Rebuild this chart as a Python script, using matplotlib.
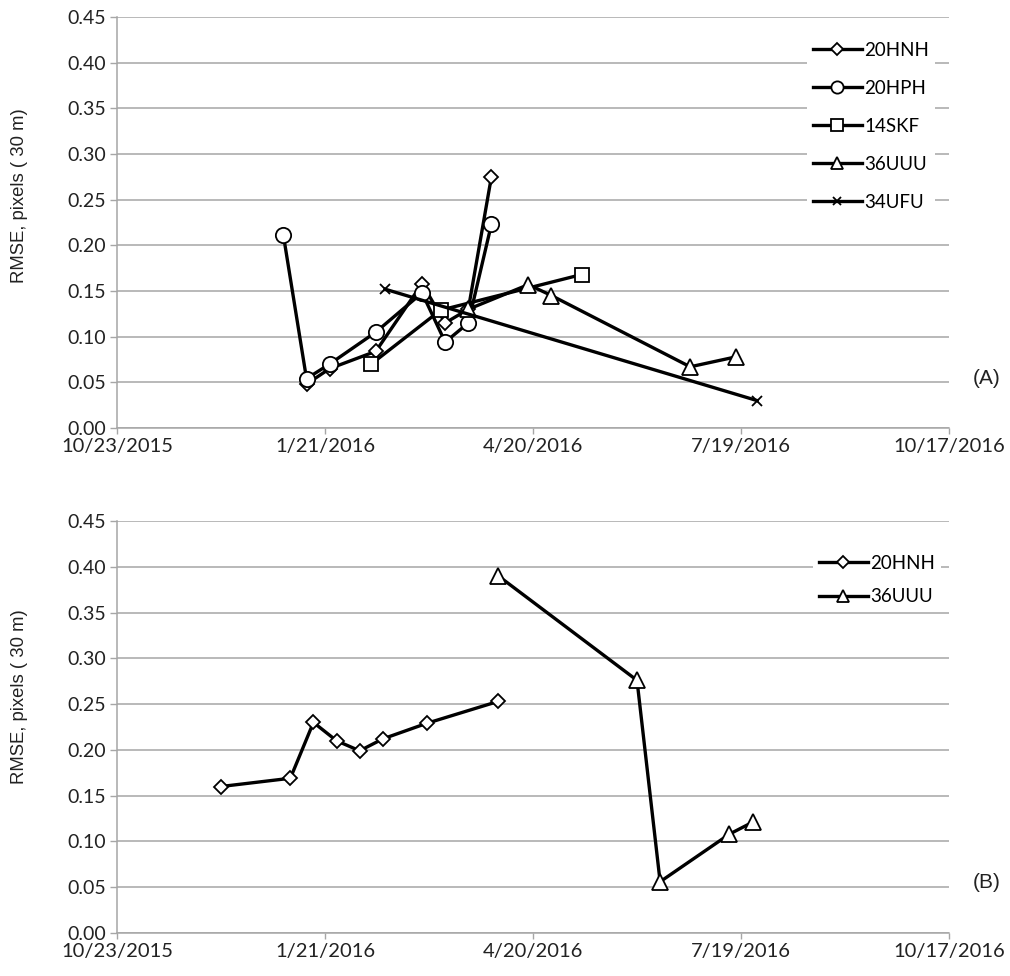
import matplotlib
matplotlib.use("Agg")
import matplotlib.pyplot as plt
import matplotlib.dates as mdates
from matplotlib.ticker import FuncFormatter
import pandas as pd

# ---------------- data ----------------
# Panel A
a_20hnh_dates = ["2016-01-13", "2016-01-23", "2016-02-12", "2016-03-03", "2016-03-13", "2016-03-23", "2016-04-02"]
a_20hnh_vals = [0.048, 0.065, 0.084, 0.158, 0.115, 0.130, 0.275]

a_20hph_dates = ["2016-01-03", "2016-01-13", "2016-01-23", "2016-02-12", "2016-03-03", "2016-03-13", "2016-03-23", "2016-04-02"]
a_20hph_vals = [0.211, 0.054, 0.070, 0.105, 0.148, 0.094, 0.115, 0.223]

a_14skf_dates = ["2016-02-10", "2016-03-11", "2016-05-11"]
a_14skf_vals = [0.070, 0.129, 0.168]

a_36uuu_dates = ["2016-03-23", "2016-04-18", "2016-04-28", "2016-06-27", "2016-07-17"]
a_36uuu_vals = [0.130, 0.157, 0.145, 0.067, 0.078]

a_34ufu_dates = ["2016-02-16", "2016-07-26"]
a_34ufu_vals = [0.152, 0.030]

# Panel B
b_20hnh_dates = ["2015-12-07", "2016-01-06", "2016-01-16", "2016-01-26", "2016-02-05", "2016-02-15", "2016-03-05", "2016-04-05"]
b_20hnh_vals = [0.160, 0.169, 0.230, 0.210, 0.199, 0.212, 0.229, 0.253]

b_36uuu_dates = ["2016-04-05", "2016-06-04", "2016-06-14", "2016-07-14", "2016-07-24"]
b_36uuu_vals = [0.390, 0.276, 0.056, 0.108, 0.121]

x_tick_dates = ["2015-10-23", "2016-01-21", "2016-04-20", "2016-07-19", "2016-10-17"]
y_ticks = [0.00, 0.05, 0.10, 0.15, 0.20, 0.25, 0.30, 0.35, 0.40, 0.45]
y_label = "RMSE, pixels ( 30 m)"

# ---------------- styling ----------------
TICK_FONT = ["Lato", "DejaVu Sans"]
LAB_FONT = ["Liberation Sans", "DejaVu Sans"]
GRID_C = "#a6a6a6"
TXT_C = "#222222"

marker_style = {
    "20HNH": dict(marker="D", ms=7.5),
    "20HPH": dict(marker="o", ms=11),
    "14SKF": dict(marker="s", ms=10.5),
    "36UUU": dict(marker="^", ms=11),
    "34UFU": dict(marker="x", ms=7, mew=1.3),
}

fig = plt.figure(figsize=(10.10, 9.76), dpi=100)
axA = fig.add_axes([117/1010, 1-428/976, (949-117)/1010, 411/976])
axB = fig.add_axes([117/1010, 1-933/976, (949-117)/1010, 412/976])

def fmt_date(x, pos=None):
    d = mdates.num2date(x)
    return f"{d.month}/{d.day}/{d.year}"

def style_axis(ax):
    ax.set_xlim(pd.Timestamp(x_tick_dates[0]), pd.Timestamp(x_tick_dates[-1]))
    ax.set_ylim(0, 0.45)
    ax.set_xticks([pd.Timestamp(d) for d in x_tick_dates])
    ax.xaxis.set_major_formatter(FuncFormatter(fmt_date))
    ax.set_yticks(y_ticks)
    ax.yaxis.set_major_formatter(FuncFormatter(lambda v, p: f"{v:.2f}"))
    ax.grid(axis="y", color=GRID_C, lw=1.1, zorder=0)
    ax.set_axisbelow(True)
    for s in ("top", "right"):
        ax.spines[s].set_visible(False)
    for s in ("left", "bottom"):
        ax.spines[s].set_color(GRID_C)
        ax.spines[s].set_linewidth(1.1)
    ax.tick_params(axis="both", colors=GRID_C, width=1.0, labelcolor=TXT_C)
    ax.tick_params(axis="x", length=4, pad=3, labelsize=14.5)
    ax.tick_params(axis="y", length=5, pad=3, labelsize=14)
    for lab in ax.get_xticklabels() + ax.get_yticklabels():
        lab.set_family(TICK_FONT)

def plot_series(ax, name, dates, vals):
    st = dict(marker_style[name])
    mew = st.pop("mew", 1.3)
    ax.plot([pd.Timestamp(d) for d in dates], vals, color="black", lw=2.4,
            mfc="white", mec="black", mew=mew, label=name, zorder=3, **st)

style_axis(axA)
style_axis(axB)

plot_series(axA, "20HNH", a_20hnh_dates, a_20hnh_vals)
plot_series(axA, "20HPH", a_20hph_dates, a_20hph_vals)
plot_series(axA, "14SKF", a_14skf_dates, a_14skf_vals)
plot_series(axA, "36UUU", a_36uuu_dates, a_36uuu_vals)
plot_series(axA, "34UFU", a_34ufu_dates, a_34ufu_vals)

plot_series(axB, "20HNH", b_20hnh_dates, b_20hnh_vals)
plot_series(axB, "36UUU", b_36uuu_dates, b_36uuu_vals)

leg_kw = dict(loc="upper left", bbox_transform=fig.transFigure, frameon=True, facecolor="white",
              edgecolor="none", framealpha=1, fancybox=False, handlelength=2.6, handletextpad=0.15,
              borderpad=0.3, prop={"family": TICK_FONT, "size": 13.5}, markerscale=0.8)
axA.legend(bbox_to_anchor=(798/1010, 1-27/976), labelspacing=1.12, **leg_kw)
axB.legend(bbox_to_anchor=(804/1010, 1-540/976), labelspacing=0.88, **leg_kw)

for yc in (196, 697):
    fig.text(20/1010, 1-yc/976, y_label, rotation=90, ha="center", va="center", fontsize=13.3,
             family=LAB_FONT, color=TXT_C)
fig.text(973/1010, 1-378/976, "(A)", ha="left", va="center", fontsize=15, family=LAB_FONT, color=TXT_C)
fig.text(973/1010, 1-882/976, "(B)", ha="left", va="center", fontsize=15, family=LAB_FONT, color=TXT_C)

fig.savefig("out.png", dpi=100, facecolor="white")
